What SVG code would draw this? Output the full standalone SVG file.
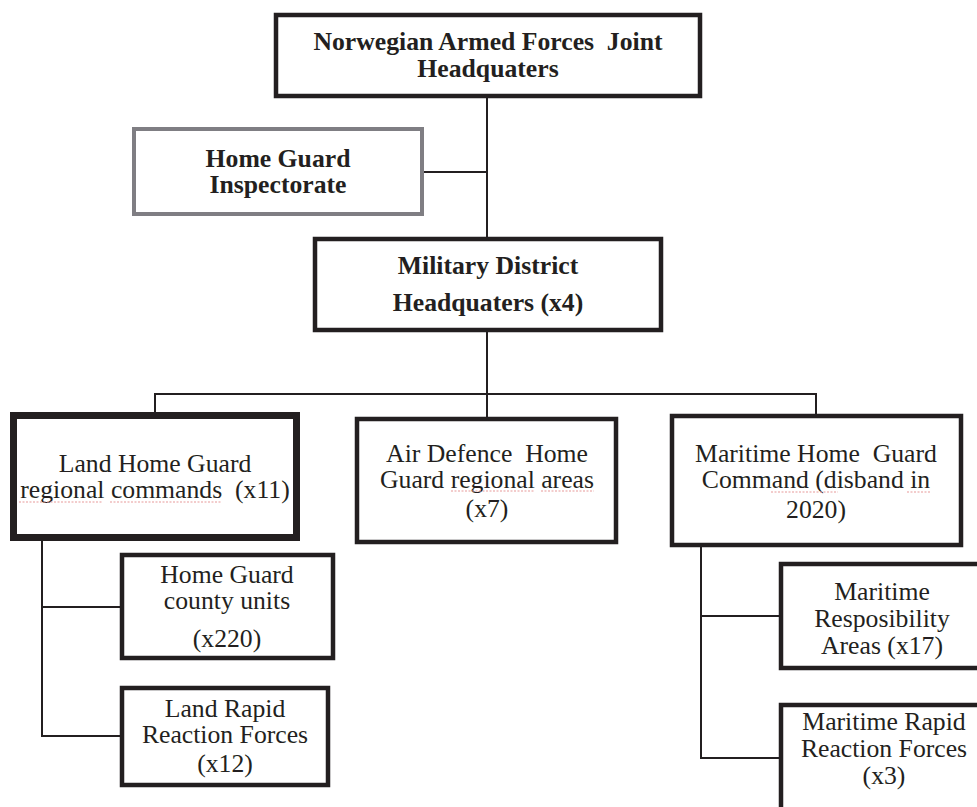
<svg xmlns="http://www.w3.org/2000/svg" width="977" height="807" viewBox="0 0 977 807">
<style>
.box{fill:#fff;stroke:#231f20;stroke-width:4.5}
.thick{stroke-width:7}
.gray{stroke:#7f7e83;stroke-width:4}
.t{font-family:"Liberation Serif","Times New Roman",serif;font-size:25.7px;fill:#231f20;text-anchor:middle;white-space:pre}
.b{font-weight:bold}
.conn line{stroke:#231f20;stroke-width:2;fill:none}
.sp line{stroke:#e89a9a;stroke-width:1.2;stroke-dasharray:2 1.5}
</style>
<rect width="977" height="807" fill="#fff"/>
<g class="conn" id="connectors">
<line x1="487" y1="97" x2="487" y2="238"/>
<line x1="423" y1="172" x2="487" y2="172"/>
<line x1="487" y1="331" x2="487" y2="394"/>
<line x1="154" y1="394" x2="817" y2="394"/>
<line x1="155" y1="394" x2="155" y2="413"/>
<line x1="487" y1="394" x2="487" y2="418"/>
<line x1="816" y1="394" x2="816" y2="415"/>
<line x1="42" y1="540" x2="42" y2="737"/>
<line x1="41" y1="607" x2="121" y2="607"/>
<line x1="41" y1="736" x2="121" y2="736"/>
<line x1="701" y1="546" x2="701" y2="759"/>
<line x1="700" y1="616" x2="780" y2="616"/>
<line x1="700" y1="758" x2="780" y2="758"/>
</g>
<g id="n-joint-hq">
<rect class="box" x="276" y="15" width="424" height="81"/>
<text class="t b" x="488" y="50">Norwegian Armed Forces  Joint</text>
<text class="t b" x="488" y="77">Headquaters</text>
</g>
<g id="n-inspectorate">
<rect class="box gray" x="134" y="129" width="288" height="85"/>
<text class="t b" x="278" y="167">Home Guard</text>
<text class="t b" x="278" y="193">Inspectorate</text>
</g>
<g id="n-military-district">
<rect class="box" x="315" y="239" width="346" height="91"/>
<text class="t b" x="488" y="274">Military District</text>
<text class="t b" x="488" y="311">Headquaters (x4)</text>
</g>
<g id="n-land">
<rect class="box thick" x="13.5" y="415.5" width="283" height="122"/>
<text class="t" x="155" y="472">Land Home Guard</text>
<text class="t" x="155" y="498">regional commands  (x11)</text>
</g>
<g id="n-air">
<rect class="box" x="357" y="419" width="259" height="123"/>
<text class="t" x="487" y="462">Air Defence  Home</text>
<text class="t" x="487" y="488">Guard regional areas</text>
<text class="t" x="487" y="517">(x7)</text>
</g>
<g id="n-maritime-cmd">
<rect class="box" x="672" y="416" width="289" height="129"/>
<text class="t" x="816" y="462">Maritime Home  Guard</text>
<text class="t" x="816" y="488">Command (disband in</text>
<text class="t" x="816" y="518">2020)</text>
</g>
<g id="n-county">
<rect class="box" x="122" y="555" width="211" height="103"/>
<text class="t" x="227" y="583">Home Guard</text>
<text class="t" x="227" y="609">county units</text>
<text class="t" x="227" y="647">(x220)</text>
</g>
<g id="n-land-rapid">
<rect class="box" x="122" y="688" width="206" height="97"/>
<text class="t" x="225" y="717">Land Rapid</text>
<text class="t" x="225" y="743">Reaction Forces</text>
<text class="t" x="225" y="772">(x12)</text>
</g>
<g id="n-maritime-resp">
<rect class="box" x="781" y="564" width="210" height="104"/>
<text class="t" x="882" y="600">Maritime</text>
<text class="t" x="882" y="627">Resposibility</text>
<text class="t" x="882" y="654">Areas (x17)</text>
</g>
<g id="n-maritime-rapid">
<rect class="box" x="781" y="705" width="210" height="120"/>
<text class="t" x="884" y="730">Maritime Rapid</text>
<text class="t" x="884" y="757">Reaction Forces</text>
<text class="t" x="884" y="784">(x3)</text>
</g>
<g class="sp" id="spellcheck-marks">
<line x1="19" y1="502" x2="102" y2="502"/>
<line x1="110" y1="502" x2="221" y2="502"/>
<line x1="451" y1="491" x2="535" y2="491"/>
<line x1="541" y1="491" x2="594" y2="491"/>
<line x1="771" y1="492" x2="838" y2="492"/>
<line x1="907" y1="492" x2="930" y2="492"/>
</g>
</svg>
